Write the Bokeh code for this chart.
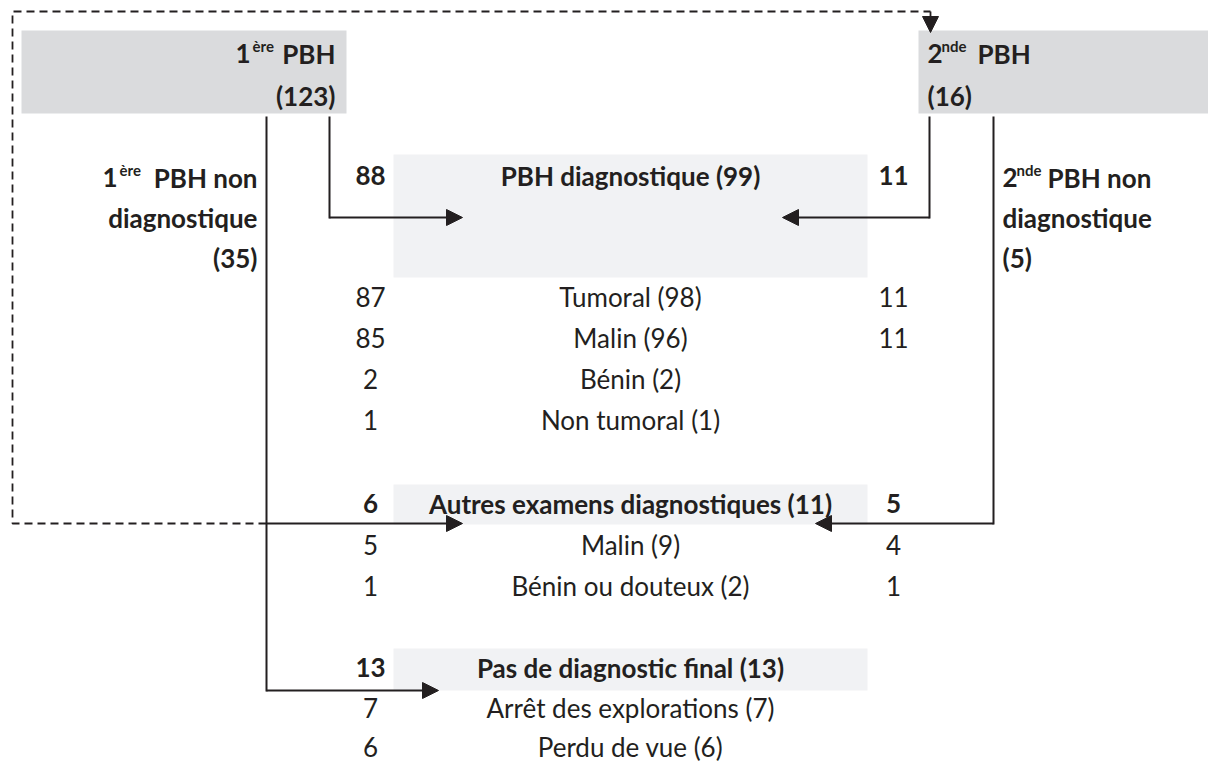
from bokeh.plotting import figure
from bokeh.models import Range1d, Arrow, NormalHead
from bokeh.core.properties import value
from bokeh.embed import file_html
from bokeh.resources import INLINE

# ---------------- data ----------------
first_pbh_total = 123
second_pbh_total = 16
first_nondiag = 35
second_nondiag = 5

diag_title = "PBH diagnostique"
diag_total = 99
diag_first = 88
diag_second = 11
diag_rows = ["Tumoral (98)", "Malin (96)", "Bénin (2)", "Non tumoral (1)"]
diag_rows_first = [87, 85, 2, 1]
diag_rows_second = [11, 11, None, None]

autres_title = "Autres examens diagnostiques"
autres_total = 11
autres_first = 6
autres_second = 5
autres_rows = ["Malin (9)", "Bénin ou douteux (2)"]
autres_rows_first = [5, 1]
autres_rows_second = [4, 1]

nodiag_title = "Pas de diagnostic final"
nodiag_total = 13
nodiag_first = 13
nodiag_rows = ["Arrêt des explorations (7)", "Perdu de vue (6)"]
nodiag_rows_first = [7, 6]

# ---------------- style / layout ----------------
FONT = "Lato"
INK = "#231f20"
GRAY = "#dadbdd"
LIGHT = "#f1f2f4"
FS = 26
SUP = 15

p = figure(width=1208, height=762, x_range=Range1d(0, 1208), y_range=Range1d(762, 0),
           output_backend="svg", toolbar_location=None, min_border=0)
p.axis.visible = False
p.grid.visible = False
p.outline_line_color = None
p.background_fill_color = "white"
p.border_fill_color = "white"


def txt(x, y, s, size=FS, bold=False, align="center"):
    p.text(x=[x], y=[y], text=[str(s)], text_font=value(FONT),
           text_font_size=value(f"{size}px"),
           text_font_style="bold" if bold else "normal",
           text_align=align, text_baseline="middle", text_color=INK)


# boxes
p.quad(left=[21, 918], right=[346, 1210], top=[30, 30], bottom=[113, 113],
       fill_color=GRAY, line_color=None)
p.quad(left=[393, 393, 393], right=[867, 867, 867], top=[154, 484, 648],
       bottom=[277, 524, 690], fill_color=LIGHT, line_color=None)

# top boxes text
txt(250, 53, "1", bold=True, align="right")
txt(252, 45, "ère", size=SUP, bold=True, align="left")
txt(335, 53, "PBH", bold=True, align="right")
txt(335, 95, f"({first_pbh_total})", bold=True, align="right")

txt(927, 53, "2", bold=True, align="left")
txt(941, 45, "nde", size=SUP, bold=True, align="left")
txt(977, 53, "PBH", bold=True, align="left")
txt(927, 95, f"({second_pbh_total})", bold=True, align="left")

# side labels
txt(117, 177, "1", bold=True, align="right")
txt(119, 169, "ère", size=SUP, bold=True, align="left")
txt(257, 177, "PBH non", bold=True, align="right")
txt(257, 217, "diagnostique", bold=True, align="right")
txt(257, 257, f"({first_nondiag})", bold=True, align="right")

txt(1002, 177, "2", bold=True, align="left")
txt(1016, 169, "nde", size=SUP, bold=True, align="left")
txt(1047, 177, "PBH non", bold=True, align="left")
txt(1002, 217, "diagnostique", bold=True, align="left")
txt(1002, 257, f"({second_nondiag})", bold=True, align="left")

CX = 630
LX = 370
RX = 893
STEP = 41.2

# diag section
y0 = 175
txt(LX, y0, diag_first, bold=True)
txt(CX, y0, f"{diag_title} ({diag_total})", bold=True)
txt(RX, y0, diag_second, bold=True)
for i, (lab, a, b) in enumerate(zip(diag_rows, diag_rows_first, diag_rows_second)):
    y = 296 + i * STEP
    txt(LX, y, a)
    txt(CX, y, lab)
    if b is not None:
        txt(RX, y, b)

# autres section
y1 = 503
txt(LX, y1, autres_first, bold=True)
txt(CX, y1, f"{autres_title} ({autres_total})", bold=True)
txt(RX, y1, autres_second, bold=True)
for i, (lab, a, b) in enumerate(zip(autres_rows, autres_rows_first, autres_rows_second)):
    y = y1 + (i + 1) * STEP
    txt(LX, y, a)
    txt(CX, y, lab)
    txt(RX, y, b)

# no diag section
y2 = 667
for i, (lab, a) in enumerate(zip(nodiag_rows, nodiag_rows_first)):
    y = y2 + 40 + i * 39
    txt(LX, y, a)
    txt(CX, y, lab)
txt(LX, y2, nodiag_first, bold=True)
txt(CX, y2, f"{nodiag_title} ({nodiag_total})", bold=True)

# connectors
LW = 2
p.multi_line(xs=[[266, 266], [329, 329], [929, 929], [993, 993]],
             ys=[[116, 691], [116, 218], [116, 218], [116, 524]],
             line_color=INK, line_width=LW)

# dashed loop
p.line(x=[266, 12, 12, 930], y=[523, 523, 11, 11], line_color=INK,
       line_width=1.8, line_dash="8 5")


def arrow(x0, y0_, x1, y1_, dash="solid", lw=LW):
    p.add_layout(Arrow(end=NormalHead(size=16, fill_color=INK, line_color=INK, line_width=1),
                       x_start=x0, y_start=y0_, x_end=x1, y_end=y1_,
                       line_color=INK, line_width=lw, line_dash=dash))


arrow(930, 11, 930, 32, dash="solid", lw=1.8)
arrow(329, 217, 462, 217)
arrow(929, 217, 782, 217)
arrow(266, 523, 462, 523)
arrow(993, 523, 815, 523)
arrow(266, 690, 438, 690)

open("out.html", "w").write(file_html(p, INLINE))
